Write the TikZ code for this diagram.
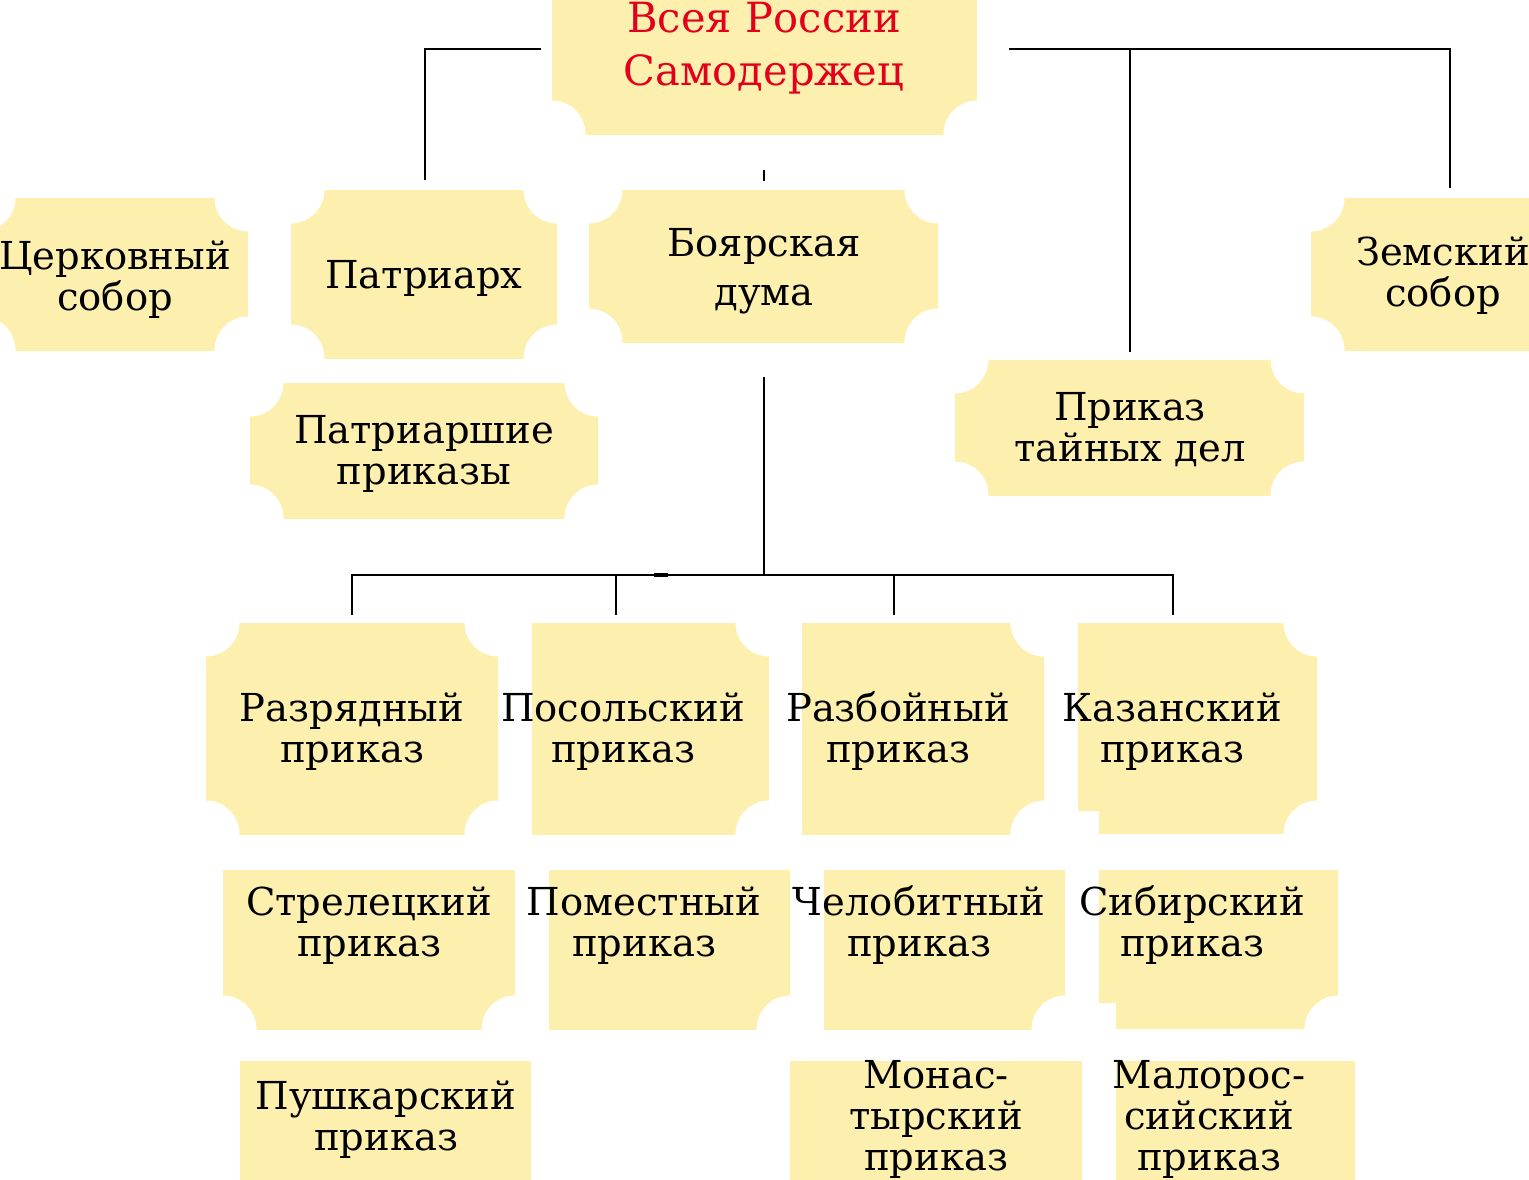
\documentclass[tikz,border=0pt]{standalone}
\usepackage{fontspec}
\setmainfont{DejaVu Serif}
\definecolor{boxy}{RGB}{253,240,174}
\definecolor{tsarred}{RGB}{226,0,26}
\def\R{16.75pt}
\newcommand\notchshape[2]{\begin{scope}\clip #1; \fill[boxy,even odd rule] (-60,-60) rectangle (1620,1260) #2; \end{scope}}
\tikzset{
  txt/.style={text width=320pt, align=center, anchor=base, inner sep=0pt,
    font=\fontsize{19.25}{20.5}\selectfont},
  wide/.style={font=\fontsize{19.25}{24.5}\selectfont},
  tsar/.style={text=tsarred, font=\fontsize{20.8}{26.5}\selectfont},
  conn/.style={line width=1.4pt, black}
}
\begin{document}
\begin{tikzpicture}[x=0.5pt,y=-0.5pt]
\useasboundingbox (0,0) rectangle (1529,1179);
% boxes
\notchshape{(552,-5) rectangle (977,134)}{(552,134) circle[radius=\R] (977,134) circle[radius=\R]}
\notchshape{(-18,198) rectangle (248,350)}{(-18,198) circle[radius=\R] (248,198) circle[radius=\R] (248,350) circle[radius=\R] (-18,350) circle[radius=\R]}
\notchshape{(291,190) rectangle (557,358)}{(291,190) circle[radius=\R] (557,190) circle[radius=\R] (557,358) circle[radius=\R] (291,358) circle[radius=\R]}
\notchshape{(589,190) rectangle (938,342)}{(589,190) circle[radius=\R] (938,190) circle[radius=\R] (938,342) circle[radius=\R] (589,342) circle[radius=\R]}
\notchshape{(250,383) rectangle (598,518)}{(250,383) circle[radius=\R] (598,383) circle[radius=\R] (598,518) circle[radius=\R] (250,518) circle[radius=\R]}
\notchshape{(1311,198) rectangle (1575,350)}{(1311,198) circle[radius=\R] (1311,350) circle[radius=\R]}
\notchshape{(955,360) rectangle (1304,495)}{(955,360) circle[radius=\R] (1304,360) circle[radius=\R] (1304,495) circle[radius=\R] (955,495) circle[radius=\R]}
\notchshape{(206,623) rectangle (498,834)}{(206,623) circle[radius=\R] (498,623) circle[radius=\R] (498,834) circle[radius=\R] (206,834) circle[radius=\R]}
\notchshape{(532,623) rectangle (769,834)}{(769,623) circle[radius=\R] (769,834) circle[radius=\R]}
\notchshape{(802,623) rectangle (1044,834)}{(1044,623) circle[radius=\R] (1044,834) circle[radius=\R]}
\notchshape{(1078,623) -- (1317,623) -- (1317,834) -- (1099,834) -- (1099,811) -- (1078,811) -- cycle}{(1317,623) circle[radius=\R] (1317,834) circle[radius=\R]}
\notchshape{(223,870) rectangle (515,1029)}{(223,1029) circle[radius=\R] (515,1029) circle[radius=\R]}
\notchshape{(549,870) rectangle (790,1029)}{(790,1029) circle[radius=\R]}
\notchshape{(824,870) rectangle (1065,1029)}{(1065,1029) circle[radius=\R]}
\notchshape{(1099,870) -- (1338,870) -- (1338,1029) -- (1116,1029) -- (1116,1003) -- (1099,1003) -- cycle}{(1338,1029) circle[radius=\R]}
\notchshape{(240,1061) rectangle (531,1190)}{}
\notchshape{(790,1061) rectangle (1082,1190)}{}
\notchshape{(1116,1061) rectangle (1355,1190)}{}
% texts
\node[txt,tsar] (tsar) at (764,32) {Всея России\\Самодержец};
\node[txt] (church) at (115,269) {Церковный\\собор};
\node[txt] (patr) at (424,288) {Патриарх};
\node[txt,wide] (duma) at (764,256) {Боярская\\дума};
\node[txt] (patrpr) at (424,443) {Патриаршие\\приказы};
\node[txt] (zemsky) at (1443,265) {Земский\\собор};
\node[txt] (secret) at (1130,420) {Приказ\\тайных дел};
\node[txt] (razr) at (352,721) {Разрядный\\приказ};
\node[txt] (posol) at (623,721) {Посольский\\приказ};
\node[txt] (razb) at (898,721) {Разбойный\\приказ};
\node[txt] (kazan) at (1172,721) {Казанский\\приказ};
\node[txt] (strel) at (369,915) {Стрелецкий\\приказ};
\node[txt] (pomest) at (644,915) {Поместный\\приказ};
\node[txt] (chelob) at (919,915) {Челобитный\\приказ};
\node[txt] (sibir) at (1192,915) {Сибирский\\приказ};
\node[txt] (push) at (386,1109) {Пушкарский\\приказ};
\node[txt] (monas) at (936,1088) {Монас-\\тырский\\приказ};
\node[txt] (malor) at (1209,1088) {Малорос-\\сийский\\приказ};
% connector end points
\coordinate (tL) at (541,49);
\coordinate (tR) at (1009,49);
\coordinate (pTop) at (425,180);
\coordinate (zTop) at (1450,188);
\coordinate (sTop) at (1130,352);
\coordinate (sJ) at (1130,49);
\coordinate (dTickA) at (764,170);
\coordinate (dTickB) at (764,181);
\coordinate (dBot) at (764,377);
\coordinate (hJ) at (764,575);
\coordinate (hL) at (352,575);
\coordinate (hR) at (1173,575);
\coordinate (b1) at (352,615);
\coordinate (b2) at (616,615);
\coordinate (b3) at (894,615);
\coordinate (b4) at (1173,615);
\coordinate (j2) at (616,575);
\coordinate (j3) at (894,575);
\coordinate (mA) at (654,575);
\coordinate (mB) at (668,575);
% connectors
\draw[conn] (tL) -| (pTop);
\draw[conn] (tR) -| (zTop);
\draw[conn] (sJ) -- (sTop);
\draw[conn] (dTickA) -- (dTickB);
\draw[conn] (dBot) -- (hJ);
\draw[conn] (b1) |- (hR) -- (b4);
\draw[conn] (j2) -- (b2);
\draw[conn] (j3) -- (b3);
\draw[line width=2.2pt] (mA) -- (mB);
\end{tikzpicture}
\end{document}
